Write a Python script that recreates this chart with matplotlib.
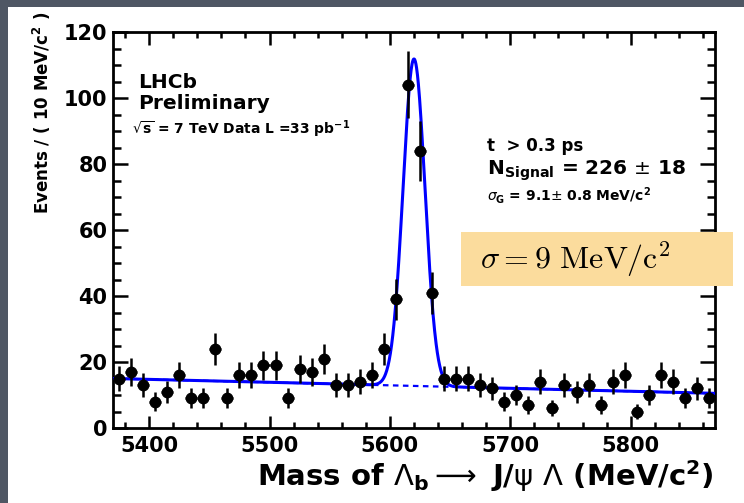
import numpy as np
import matplotlib
matplotlib.use("Agg")
import matplotlib.pyplot as plt
from matplotlib.patches import Rectangle
from matplotlib.ticker import MultipleLocator
from matplotlib.font_manager import FontProperties

# ---- binned invariant-mass data (10 MeV/c^2 bins) ----
bin_width = 10
mass_lo, mass_hi = 5370, 5870
bin_centres = np.arange(mass_lo + bin_width / 2, mass_hi, bin_width)
events = [15, 17, 13, 8, 11, 16, 9, 9, 24, 9,
          16, 16, 19, 19, 9, 18, 17, 21, 13, 13,
          14, 16, 24, 39, 104, 84, 41, 15, 15, 15,
          13, 12, 8, 10, 7, 14, 6, 13, 11, 13,
          7, 14, 16, 5, 10, 16, 14, 9, 12, 9]

# ---- fit model: Gaussian signal + linear background ----
n_signal = 226
sigma_g = 9.1
peak_mass = 5620
bkg_at_lo = 15.0
bkg_at_hi = 10.5

W, H = 744, 503


def fx(px):
    return px / W


def fy(py):
    return 1 - py / H


fig = plt.figure(figsize=(W / 100, H / 100), dpi=100)
fig.patch.set_facecolor("white")
slate = "#4f5764"
fig.patches.append(Rectangle((0, 0), fx(8), 1, transform=fig.transFigure,
                             facecolor=slate, edgecolor="none", zorder=-5))
fig.patches.append(Rectangle((0, fy(7)), 1, 1 - fy(7), transform=fig.transFigure,
                             facecolor=slate, edgecolor="none", zorder=-5))

ax = fig.add_axes([fx(113), fy(428), fx(715) - fx(113), fy(32) - fy(428)])

m = np.linspace(mass_lo, mass_hi, 2000)
bkg = bkg_at_lo + (bkg_at_hi - bkg_at_lo) * (m - mass_lo) / (mass_hi - mass_lo)
sig = n_signal * bin_width / (np.sqrt(2 * np.pi) * sigma_g) * np.exp(-0.5 * ((m - peak_mass) / sigma_g) ** 2)

ax.plot(m, bkg, color="#0000ff", lw=1.6, ls=(0, (2.5, 2)), zorder=2)
ax.plot(m, bkg + sig, color="#0000ff", lw=2.2, zorder=3)

counts = np.array(events, dtype=float)
ax.errorbar(bin_centres, counts, yerr=np.sqrt(counts), xerr=bin_width / 2,
            fmt="o", color="black", ms=7.5, elinewidth=1.8, capsize=0, zorder=4)

ax.set_xlim(mass_lo, mass_hi)
ax.set_ylim(0, 120)
ax.xaxis.set_major_locator(MultipleLocator(100))
ax.xaxis.set_minor_locator(MultipleLocator(20))
ax.yaxis.set_major_locator(MultipleLocator(20))
ax.yaxis.set_minor_locator(MultipleLocator(5))

for s in ax.spines.values():
    s.set_linewidth(2.0)

tick_font = FontProperties(family="DejaVu Sans", weight="bold", size=15)
ax.tick_params(which="both", direction="in", top=True, right=True, width=1.8)
ax.tick_params(axis="x", which="major", length=9, pad=6)
ax.tick_params(axis="x", which="minor", length=4)
ax.tick_params(axis="y", which="major", length=11, pad=4)
ax.tick_params(axis="y", which="minor", length=5.5)
for lab in ax.get_xticklabels() + ax.get_yticklabels():
    lab.set_fontproperties(tick_font)

# axis titles
fig.text(fx(714), fy(476),
         r"Mass of $\Lambda_{\mathbf{b}} \longrightarrow$ J/$\mathrm{\psi}$ $\Lambda$ (MeV/c$^{\mathbf{2}}$)",
         ha="right", va="center", fontsize=21, fontweight="bold",
         family="DejaVu Sans", math_fontfamily="dejavusans")
fig.text(fx(42), fy(113), r"Events / ( 10 MeV/c$^{\mathbf{2}}$ )",
         rotation=90, ha="center", va="center", fontsize=12, fontweight="bold",
         family="DejaVu Sans", math_fontfamily="dejavusans")

# experiment labels
fig.text(fx(138), fy(83), "LHCb", ha="left", va="center", fontsize=14.5,
         fontweight="bold", family="DejaVu Sans")
fig.text(fx(138), fy(103), "Preliminary", ha="left", va="center", fontsize=14.5,
         fontweight="bold", family="DejaVu Sans")
fig.text(fx(132), fy(129), r"$\sqrt{\mathbf{s}}$ = 7 TeV Data L =33 pb$^{\mathbf{-1}}$",
         ha="left", va="center", fontsize=10, fontweight="bold",
         family="DejaVu Sans", math_fontfamily="dejavusans")

# fit results
fig.text(fx(487), fy(146), "t  > 0.3 ps", ha="left", va="center", fontsize=12,
         fontweight="bold", family="DejaVu Sans")
fig.text(fx(487), fy(171), r"N$_{\mathbf{Signal}}$ = 226 $\pm$ 18", ha="left",
         va="center", fontsize=14.5, fontweight="bold", family="DejaVu Sans",
         math_fontfamily="dejavusans")
fig.text(fx(487), fy(195), r"$\sigma_{\mathbf{G}}$ = 9.1$\pm$ 0.8 MeV/c$^{\mathbf{2}}$",
         ha="left", va="center", fontsize=10, fontweight="bold",
         family="DejaVu Sans", math_fontfamily="dejavusans")

# highlighted resolution box
fig.patches.append(Rectangle((fx(461), fy(286)), fx(733) - fx(461), fy(232) - fy(286),
                             transform=fig.transFigure, facecolor="#fbdc9d",
                             edgecolor="none", zorder=5))
fig.text(fx(480), fy(259), r"$\sigma = 9\ \mathrm{MeV/c^2}$", ha="left", va="center",
         fontsize=23, math_fontfamily="cm", zorder=6)

fig.savefig("out.png", dpi=100)
